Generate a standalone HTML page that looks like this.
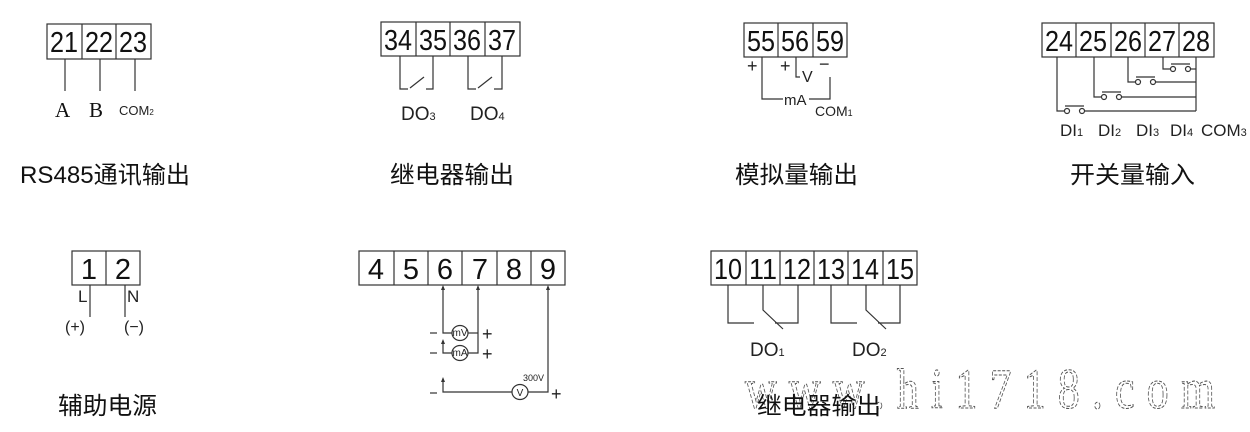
<!DOCTYPE html>
<html><head><meta charset="utf-8"><style>
html,body{margin:0;padding:0;background:#fff;}
svg{display:block;}
.n{font-family:"Liberation Sans",sans-serif;font-size:29px;fill:#111;text-anchor:middle;}
.t{font-family:"Liberation Sans","Noto Sans CJK SC",sans-serif;font-size:24px;fill:#111;}
.s{font-family:"Liberation Sans",sans-serif;font-size:16px;fill:#222;}
.x{font-family:"Liberation Sans",sans-serif;font-size:10px;fill:#222;}
</style></head><body>
<svg width="1250" height="432" viewBox="0 0 1250 432" xmlns="http://www.w3.org/2000/svg">
<g fill="none" stroke="#333" stroke-width="1.2">
<rect x="47" y="24" width="104" height="35"/>
<line x1="82" y1="24" x2="82" y2="59"/><line x1="116" y1="24" x2="116" y2="59"/>
<line x1="65" y1="59" x2="65" y2="91"/><line x1="100" y1="59" x2="100" y2="91"/><line x1="135" y1="59" x2="135" y2="91"/>
<rect x="381" y="22" width="139" height="34"/>
<line x1="416" y1="22" x2="416" y2="56"/><line x1="450" y1="22" x2="450" y2="56"/><line x1="485" y1="22" x2="485" y2="56"/>
<polyline points="400,56 400,89 408,89"/><line x1="410" y1="88" x2="424" y2="77"/><polyline points="426,89 433,89 433,56"/>
<polyline points="468,56 468,89 476,89"/><line x1="478" y1="88" x2="492" y2="77"/><polyline points="494,89 502,89 502,56"/>
<rect x="744" y="23" width="103" height="34"/>
<line x1="778" y1="23" x2="778" y2="57"/><line x1="813" y1="23" x2="813" y2="57"/>
<polyline points="762,57 762,99 783,99"/><polyline points="809,99 830,99 830,77"/>
<polyline points="796,57 796,77 800,77"/>
<rect x="1042" y="23" width="172" height="34"/>
<line x1="1076" y1="23" x2="1076" y2="57"/><line x1="1111" y1="23" x2="1111" y2="57"/><line x1="1145" y1="23" x2="1145" y2="57"/><line x1="1179" y1="23" x2="1179" y2="57"/>
<polyline points="1057,57 1057,111 1064,111"/><line x1="1085" y1="111" x2="1196" y2="111"/>
<polyline points="1094,57 1094,97 1101,97"/><line x1="1122" y1="97" x2="1196" y2="97"/>
<polyline points="1128,57 1128,82 1135,82"/><line x1="1156" y1="82" x2="1196" y2="82"/>
<polyline points="1163,57 1163,69 1170,69"/><line x1="1191" y1="69" x2="1196" y2="69"/>
<line x1="1196" y1="57" x2="1196" y2="111"/>
<circle cx="1067" cy="111" r="2.5"/><circle cx="1082" cy="111" r="2.5"/><line x1="1065" y1="106" x2="1084" y2="106"/>
<circle cx="1104" cy="97" r="2.5"/><circle cx="1119" cy="97" r="2.5"/><line x1="1102" y1="92" x2="1121" y2="92"/>
<circle cx="1138" cy="82" r="2.5"/><circle cx="1153" cy="82" r="2.5"/><line x1="1136" y1="77" x2="1155" y2="77"/>
<circle cx="1173" cy="69" r="2.5"/><circle cx="1188" cy="69" r="2.5"/><line x1="1171" y1="64" x2="1190" y2="64"/>
<rect x="72" y="251" width="68" height="34"/>
<line x1="106" y1="251" x2="106" y2="285"/>
<line x1="90" y1="285" x2="90" y2="317"/><line x1="125" y1="285" x2="125" y2="317"/>
<rect x="359" y="251" width="206" height="34"/>
<line x1="394" y1="251" x2="394" y2="285"/><line x1="428" y1="251" x2="428" y2="285"/><line x1="462" y1="251" x2="462" y2="285"/><line x1="497" y1="251" x2="497" y2="285"/><line x1="531" y1="251" x2="531" y2="285"/>
<polyline points="443,287 443,333 452,333"/><polyline points="468,333 478,333"/>
<polyline points="478,287 478,353 468,353"/>
<polyline points="443,342 443,353 452,353"/>
<polyline points="443,380 443,392 512,392"/><polyline points="528,392 548,392 548,287"/>
<ellipse cx="460" cy="333" rx="8" ry="7.5"/><ellipse cx="460" cy="353" rx="8" ry="7.5"/><ellipse cx="520" cy="392" rx="8" ry="7.5"/>
<line x1="430" y1="333" x2="437" y2="333"/><line x1="430" y1="353" x2="437" y2="353"/><line x1="430" y1="393" x2="437" y2="393"/>
<rect x="711" y="251" width="206" height="34"/>
<line x1="746" y1="251" x2="746" y2="285"/><line x1="780" y1="251" x2="780" y2="285"/><line x1="814" y1="251" x2="814" y2="285"/><line x1="848" y1="251" x2="848" y2="285"/><line x1="883" y1="251" x2="883" y2="285"/>
<polyline points="728,285 728,323 754,323"/><polyline points="763,285 763,310 783,329"/><polyline points="775,323 798,323 798,285"/>
<polyline points="831,285 831,323 857,323"/><polyline points="866,285 866,310 886,329"/><polyline points="878,323 900,323 900,285"/>
</g>
<g fill="#333">
<polygon points="443,285 441,290 445,290"/><polygon points="478,285 476,290 480,290"/><polygon points="548,285 546,290 550,290"/>
<polygon points="443,339 441,344 445,344"/><polygon points="443,377 441,382 445,382"/>
</g>
<g class="n" lengthAdjust="spacingAndGlyphs">
<text x="64" y="52" textLength="28" lengthAdjust="spacingAndGlyphs">21</text><text x="99" y="52" textLength="28" lengthAdjust="spacingAndGlyphs">22</text><text x="133" y="52" textLength="28" lengthAdjust="spacingAndGlyphs">23</text>
<text x="398" y="50" textLength="28" lengthAdjust="spacingAndGlyphs">34</text><text x="433" y="50" textLength="28" lengthAdjust="spacingAndGlyphs">35</text><text x="467" y="50" textLength="28" lengthAdjust="spacingAndGlyphs">36</text><text x="502" y="50" textLength="28" lengthAdjust="spacingAndGlyphs">37</text>
<text x="761" y="51" textLength="28" lengthAdjust="spacingAndGlyphs">55</text><text x="795" y="51" textLength="28" lengthAdjust="spacingAndGlyphs">56</text><text x="830" y="51" textLength="28" lengthAdjust="spacingAndGlyphs">59</text>
<text x="1059" y="51" textLength="28" lengthAdjust="spacingAndGlyphs">24</text><text x="1093" y="51" textLength="28" lengthAdjust="spacingAndGlyphs">25</text><text x="1128" y="51" textLength="28" lengthAdjust="spacingAndGlyphs">26</text><text x="1162" y="51" textLength="28" lengthAdjust="spacingAndGlyphs">27</text><text x="1196" y="51" textLength="28" lengthAdjust="spacingAndGlyphs">28</text>
<text x="89" y="279">1</text><text x="123" y="279">2</text>
<text x="376" y="279">4</text><text x="411" y="279">5</text><text x="445" y="279">6</text><text x="480" y="279">7</text><text x="514" y="279">8</text><text x="548" y="279">9</text>
<text x="728" y="279" textLength="28" lengthAdjust="spacingAndGlyphs">10</text><text x="763" y="279" textLength="28" lengthAdjust="spacingAndGlyphs">11</text><text x="797" y="279" textLength="28" lengthAdjust="spacingAndGlyphs">12</text><text x="831" y="279" textLength="28" lengthAdjust="spacingAndGlyphs">13</text><text x="865" y="279" textLength="28" lengthAdjust="spacingAndGlyphs">14</text><text x="900" y="279" textLength="28" lengthAdjust="spacingAndGlyphs">15</text>
</g>
<text x="55" y="117" style="font-family:'Liberation Serif',serif;font-size:21px;fill:#111">A</text>
<text x="89" y="117" style="font-family:'Liberation Serif',serif;font-size:21px;fill:#111">B</text>
<text x="119" y="115" class="x" style="font-size:13px">COM<tspan font-size="8">2</tspan></text>
<text x="401" y="120" class="s" style="font-size:19px">DO<tspan font-size="11">3</tspan></text>
<text x="470" y="120" class="s" style="font-size:19px">DO<tspan font-size="11">4</tspan></text>
<text x="747" y="72" class="s" style="font-size:18px">+</text><text x="780" y="72" class="s" style="font-size:18px">+</text><text x="819" y="70" class="s" style="font-size:18px">−</text>
<text x="802" y="82" class="s" style="font-size:16px">V</text>
<text x="784" y="105" class="s" style="font-size:15px">mA</text>
<text x="815" y="116" class="x" style="font-size:14px">COM<tspan font-size="9">1</tspan></text>
<g class="s" style="font-size:17px">
<text x="1060" y="136">DI<tspan font-size="11">1</tspan></text><text x="1098" y="136">DI<tspan font-size="11">2</tspan></text><text x="1136" y="136">DI<tspan font-size="11">3</tspan></text><text x="1170" y="136">DI<tspan font-size="11">4</tspan></text><text x="1201" y="136">COM<tspan font-size="11">3</tspan></text>
</g>
<text x="78" y="302" class="s" style="font-size:17px">L</text><text x="127" y="302" class="s" style="font-size:17px">N</text>
<text x="65" y="332" class="s" style="font-size:16px">(+)</text><text x="124" y="332" class="s" style="font-size:16px">(−)</text>
<text x="460" y="336" class="x" text-anchor="middle">mV</text><text x="460" y="356" class="x" text-anchor="middle">mA</text><text x="520" y="396" class="x" text-anchor="middle">V</text>
<text x="523" y="381" class="x" style="font-size:9px">300V</text>
<text x="482" y="340" class="s" style="font-size:18px">+</text><text x="482" y="360" class="s" style="font-size:18px">+</text><text x="551" y="400" class="s" style="font-size:18px">+</text>
<text x="750" y="356" class="s" style="font-size:19px">DO<tspan font-size="11">1</tspan></text>
<text x="852" y="356" class="s" style="font-size:19px">DO<tspan font-size="11">2</tspan></text>
<g class="t">
<text x="20" y="183" textLength="170" lengthAdjust="spacingAndGlyphs">RS485通讯输出</text>
<text x="390" y="183" textLength="124" lengthAdjust="spacingAndGlyphs">继电器输出</text>
<text x="735" y="183" textLength="123" lengthAdjust="spacingAndGlyphs">模拟量输出</text>
<text x="1070" y="183" textLength="125" lengthAdjust="spacingAndGlyphs">开关量输入</text>
<text x="58" y="414" textLength="99" lengthAdjust="spacingAndGlyphs">辅助电源</text>
</g>
<g transform="translate(0,408) scale(1,1.3)">
<text x="745" y="0" textLength="470" lengthAdjust="spacing" style="font-family:'Liberation Serif',serif;font-size:44px;fill:none;stroke:#555;stroke-width:0.8;stroke-dasharray:3 1.5">www.hi1718.com</text>
</g>
<text x="757" y="414" class="t" textLength="124" lengthAdjust="spacingAndGlyphs">继电器输出</text>
</svg>
</body></html>
